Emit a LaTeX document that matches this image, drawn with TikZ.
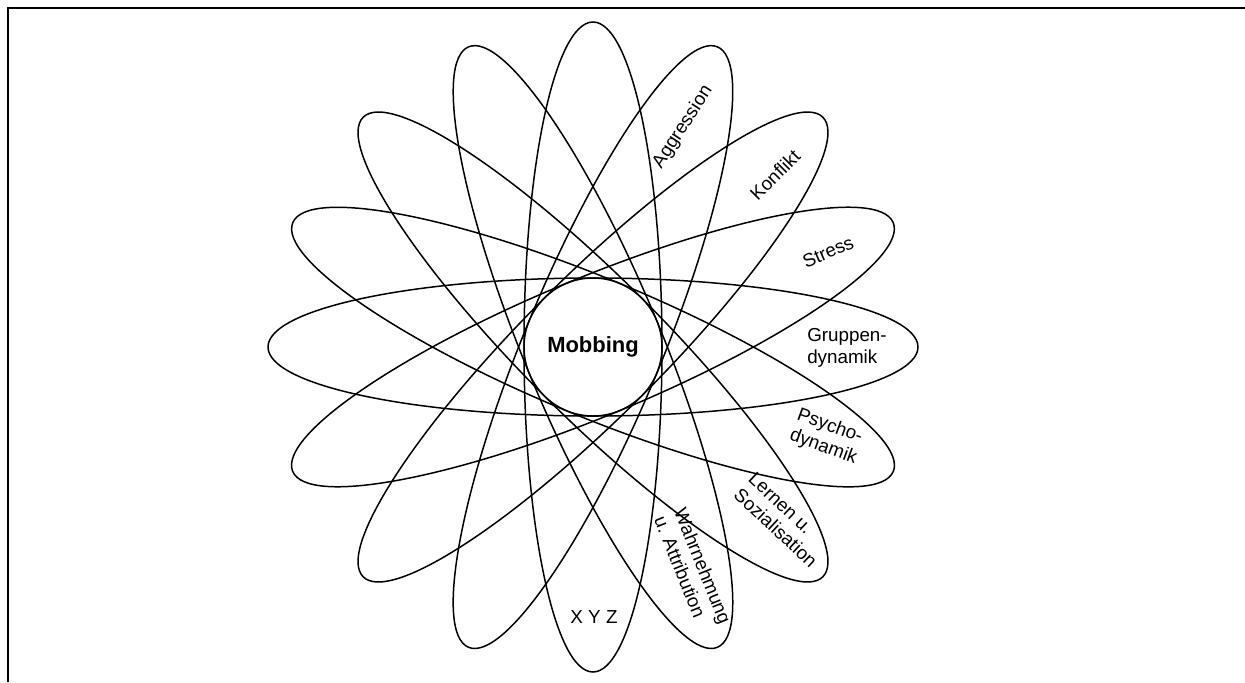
\documentclass[tikz,border=0pt]{standalone}
\usepackage{fontspec}
\setmainfont{Liberation Sans}

\begin{document}
\begin{tikzpicture}[
    line width=0.85pt,
    rahmen/.style={line width=1.3pt},
    etikett/.style={font=\fontsize{10.7}{12.3}\selectfont, align=left, inner sep=1pt},
    kern/.style={circle, draw, minimum size=2.76cm, inner sep=0pt,
      font=\bfseries\fontsize{12.5}{14}\selectfont},
  ]
  \useasboundingbox (0,0) rectangle (24.9,-13.64);

  % Rahmen
  \coordinate (ro) at (24.9,-0.156);
  \coordinate (lo) at (0.156,-0.156);
  \coordinate (lu) at (0.156,-13.64);
  \draw[rahmen] (ro) -- (lo) -- (lu);

  % Ellipsen
  \coordinate (mitte) at (11.86,-6.94);
  \foreach \w in {0,22.5,...,157.5}
    \draw[rotate around={\w:(mitte)}] (mitte) ellipse [x radius=6.5, y radius=1.38];

  \node[kern] (mob) at (mitte) {Mobbing};

  % Beschriftungen
  \node[etikett, rotate=57] (aggr) at (13.66,-2.54) {Aggression};
  \node[etikett, rotate=45] (konf) at (15.50,-3.50) {Konflikt};
  \node[etikett, rotate=23] (stre) at (16.56,-5.04) {Stress};
  \node[etikett] (grup) at (16.94,-6.96) {Gruppen-\\dynamik};
  \node[etikett, rotate=-20] (psych) at (16.54,-8.74) {Psycho-\\dynamik};
  \node[etikett, rotate=-43] (lern) at (15.66,-10.40) {Lernen u.\\Sozialisation};
  \node[etikett, rotate=-68] (wahr) at (13.86,-11.40) {Wahrnehmung\\u. Attribution};
  \node[etikett] (xyz) at (11.88,-12.34) {X Y Z};
\end{tikzpicture}
\end{document}
